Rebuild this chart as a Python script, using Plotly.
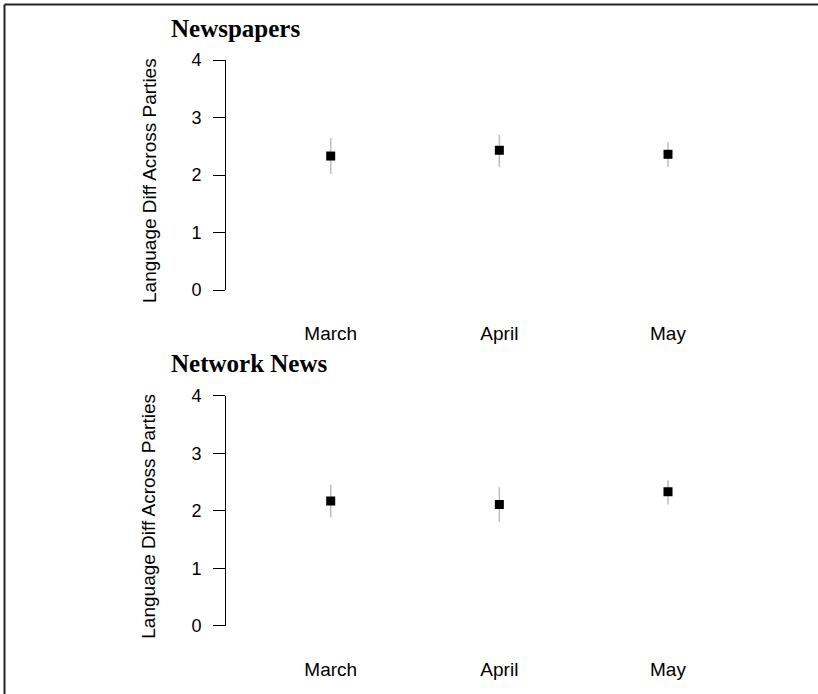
import plotly.graph_objects as go

# Monthly estimates of language difference across parties, by medium
months = ["March", "April", "May"]

newspapers_est = [2.33, 2.43, 2.36]
newspapers_hi = [2.64, 2.70, 2.57]
newspapers_lo = [2.02, 2.14, 2.14]

network_est = [2.17, 2.11, 2.33]
network_hi = [2.45, 2.41, 2.53]
network_lo = [1.88, 1.81, 2.11]

panel_titles = ["Newspapers", "Network News"]
y_label = "Language Diff Across Parties"
y_ticks = [0, 1, 2, 3, 4]

W, H = 818, 694
SANS = "Liberation Sans, Arial, Helvetica, sans-serif"
SERIF = "Liberation Serif, Times New Roman, serif"


def px_x(p):
    return p / W


def px_y(p):
    return 1 - p / H


# panel pixel geometry (top of y=4, bottom of y=0)
panels = [(60.0, 290.0), (395.7, 625.7)]
x_left, x_right = 226.0, 800.0
cat_lo, cat_hi = -0.6208, 2.7827

fig = go.Figure()
series = [
    (newspapers_est, newspapers_hi, newspapers_lo),
    (network_est, network_hi, network_lo),
]

for i, ((est, hi, lo), (top, bot)) in enumerate(zip(series, panels), start=1):
    xa = "x" if i == 1 else f"x{i}"
    ya = "y" if i == 1 else f"y{i}"
    fig.add_trace(go.Scatter(
        x=months, y=est, mode="markers",
        marker=dict(symbol="square", size=9, color="black"),
        error_y=dict(
            type="data", symmetric=False,
            array=[h - e for h, e in zip(hi, est)],
            arrayminus=[e - l for e, l in zip(est, lo)],
            color="#bdbdbd", thickness=1.5, width=0,
        ),
        xaxis=xa, yaxis=ya, showlegend=False, hoverinfo="skip",
    ))

    xkey = "xaxis" if i == 1 else f"xaxis{i}"
    ykey = "yaxis" if i == 1 else f"yaxis{i}"
    fig.update_layout({
        xkey: dict(
            domain=[px_x(x_left), px_x(x_right)],
            anchor=ya, type="category", categoryorder="array",
            categoryarray=months, range=[cat_lo, cat_hi],
            showline=False, showgrid=False, zeroline=False,
            ticks="outside", ticklen=26, tickcolor="rgba(0,0,0,0)",
            tickfont=dict(family=SANS, size=19, color="black"),
        ),
        ykey: dict(
            domain=[px_y(bot), px_y(top)],
            anchor=xa, range=[0, 4], tickvals=y_ticks,
            showline=True, linecolor="black", linewidth=1,
            showgrid=False, zeroline=False,
            ticks="outside", ticklen=12, tickwidth=1, tickcolor="black",
            ticklabelstandoff=8,
            tickfont=dict(family=SANS, size=18, color="black"),
        ),
    })

    # panel heading
    fig.add_annotation(
        x=px_x(169), y=px_y(top - 32), xref="paper", yref="paper",
        xanchor="left", yanchor="middle", showarrow=False,
        text=f"<b>{panel_titles[i - 1]}</b>",
        font=dict(family=SERIF, size=25, color="black"),
    )
    # rotated y axis title
    fig.add_annotation(
        x=px_x(149), y=px_y((top + bot) / 2 + 6), xref="paper", yref="paper",
        xanchor="center", yanchor="middle", showarrow=False,
        text=y_label, textangle=-90,
        font=dict(family=SANS, size=19, color="black"),
    )

# frame lines along the top and left edges
fig.add_shape(type="line", xref="paper", yref="paper",
              x0=px_x(4.5), x1=1, y0=px_y(4.5), y1=px_y(4.5),
              line=dict(color="#222222", width=2))
fig.add_shape(type="line", xref="paper", yref="paper",
              x0=px_x(4.5), x1=px_x(4.5), y0=px_y(4.5), y1=0,
              line=dict(color="#222222", width=2))

fig.update_layout(
    width=W, height=H, autosize=False,
    margin=dict(l=0, r=0, t=0, b=0, pad=0, autoexpand=False),
    paper_bgcolor="white", plot_bgcolor="white",
)

fig.write_html("out.html")
